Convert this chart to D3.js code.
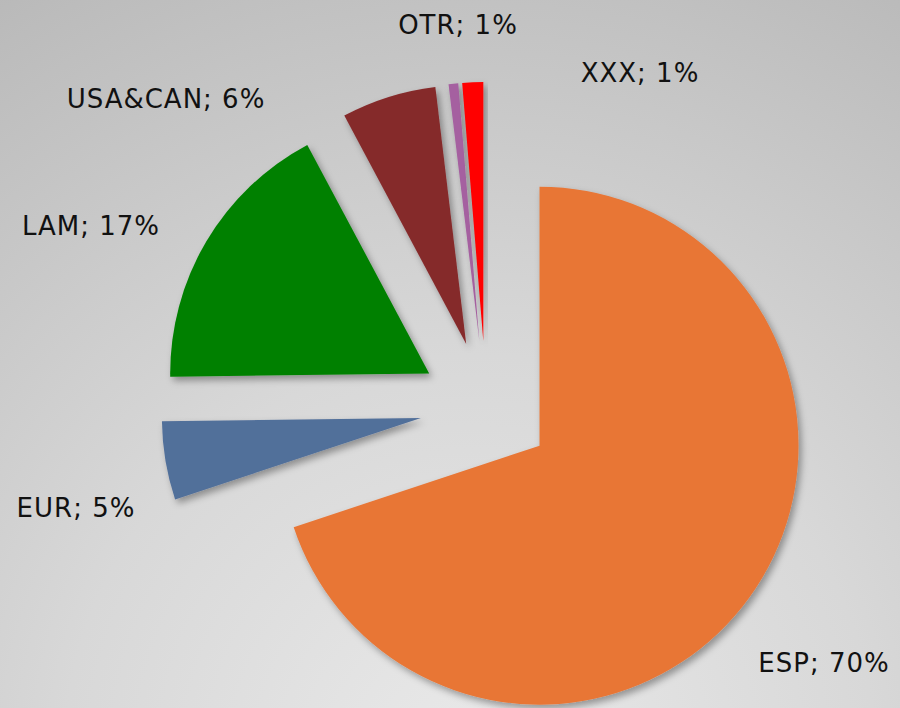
<!DOCTYPE html>
<html>
<head>
<meta charset="utf-8">
<script src="https://cdn.jsdelivr.net/npm/d3@7"></script>
<style>
  html, body { margin: 0; padding: 0; }
  body { width: 900px; height: 708px; overflow: hidden; }
  text { font-family: "DejaVu Sans", Verdana, sans-serif; }
</style>
</head>
<body>
<div id="chart"></div>
<script>
// data (share in %)
var regions = ["ESP", "EUR", "LAM", "USA&CAN", "OTR", "XXX"];
var shares = [69.9, 4.9, 17.4, 5.9, 0.6, 1.3];
var colors = ["#e87636", "#516f9a", "#008000", "#852a2b", "#a560a0", "#ff0000"];

var width = 900,
  height = 708,
  cx = 486,
  cy = 407,
  radius = 259,
  explode = 66;

// label anchor (centre of text) relative to pie centre, chosen like Excel did
var labelOffset = {
  "ESP": [338, 256],
  "EUR": [-410, 101],
  "LAM": [-395, -181],
  "USA&CAN": [-320, -308],
  "OTR": [-28, -382],
  "XXX": [154, -334]
};

var data = regions.map(function (d, i) {
  return { name: d, value: shares[i], color: colors[i] };
});

var svg = d3.select("#chart").append("svg")
  .attr("width", width)
  .attr("height", height);

var defs = svg.append("defs");

var bg = defs.append("radialGradient")
  .attr("id", "bg")
  .attr("gradientUnits", "userSpaceOnUse")
  .attr("cx", 470)
  .attr("cy", 760)
  .attr("r", 900);
bg.append("stop").attr("offset", "0%").attr("stop-color", "#e9e9e9");
bg.append("stop").attr("offset", "45%").attr("stop-color", "#d8d8d8");
bg.append("stop").attr("offset", "100%").attr("stop-color", "#b9b9b9");

var shadow = defs.append("filter")
  .attr("id", "shadow")
  .attr("x", "-20%").attr("y", "-20%")
  .attr("width", "140%").attr("height", "140%");
shadow.append("feDropShadow")
  .attr("dx", 3)
  .attr("dy", 4)
  .attr("stdDeviation", 3.5)
  .attr("flood-color", "#000")
  .attr("flood-opacity", 0.35);

svg.append("rect")
  .attr("width", width)
  .attr("height", height)
  .attr("fill", "url(#bg)");

var pie = d3.pie()
  .sort(null)
  .value(function (d) { return d.value; });

var arc = d3.arc()
  .innerRadius(0)
  .outerRadius(radius);

var g = svg.append("g")
  .attr("transform", "translate(" + cx + "," + cy + ")");

var arcs = pie(data);

// draw slices, each pushed out along its bisector
g.selectAll("path.slice")
  .data(arcs)
  .enter()
  .append("path")
  .attr("class", "slice")
  .attr("d", arc)
  .attr("fill", function (d) { return d.data.color; })
  .attr("filter", "url(#shadow)")
  .attr("transform", function (d) {
    var a = (d.startAngle + d.endAngle) / 2;
    return "translate(" + (explode * Math.sin(a)) + "," + (-explode * Math.cos(a)) + ")";
  });

// data labels
g.selectAll("text.label")
  .data(arcs)
  .enter()
  .append("text")
  .attr("class", "label")
  .attr("x", function (d) { return labelOffset[d.data.name][0]; })
  .attr("y", function (d) { return labelOffset[d.data.name][1]; })
  .attr("dy", "0.36em")
  .attr("text-anchor", "middle")
  .attr("font-size", "26px")
  .attr("letter-spacing", "1px")
  .attr("fill", "#111")
  .text(function (d) { return d.data.name + "; " + Math.round(d.data.value) + "%"; });
</script>
</body>
</html>
